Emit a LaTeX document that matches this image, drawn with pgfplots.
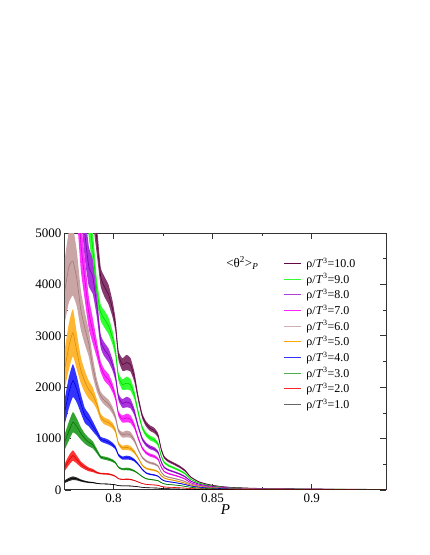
\documentclass[border=0pt]{standalone}
\usepackage{fontspec}
\setmainfont{Liberation Serif}
\usepackage{pgfplots}
\pgfplotsset{compat=1.18}
\usepackage{pgfplotstable}
\usepgfplotslibrary{fillbetween}

\definecolor{cmaroon}{RGB}{103,7,72}
\definecolor{cgreen}{RGB}{0,255,0}
\definecolor{cviolet}{RGB}{148,0,211}
\definecolor{cmagenta}{RGB}{255,0,255}
\definecolor{cbrown}{RGB}{188,143,143}
\definecolor{corange}{RGB}{255,165,0}
\definecolor{cblue}{RGB}{0,0,255}
\definecolor{cgreenf}{RGB}{0,139,0}
\definecolor{cred}{RGB}{255,0,0}
\definecolor{cblack}{RGB}{0,0,0}

% x, relative band half-width r, then rho/T^3 = 10 ... 1
\pgfplotstableread{
x      r     y10   y9    y8    y7    y6    y5    y4    y3    y2   y1
0.7755 0.16  9000  8000  7000  6000  3900  2380  1550  950   450  165
0.7775 0.16  10500 9200  8000  6800  4350  2800  1900  1150  580  205
0.7795 0.15  11500 9900  8500  7000  4450  3060  2130  1320  670  230
0.7815 0.13  10200 8800  7300  6100  4100  2690  1950  1230  590  215
0.7835 0.11  8700  7400  6000  4800  3500  2330  1680  1100  500  185
0.7855 0.10  7500  6300  5000  4100  3150  2110  1450  1000  445  165
0.7875 0.09  6600  5400  4350  3450  2850  1950  1360  930   400  150
0.7895 0.08  5700  4700  4150  3100  2400  1850  1240  880   380  145
0.7915 0.06  4900  3900  3600  2750  2050  1670  1120  760   340  130
0.7935 0.045 4150  3450  2900  2400  1830  1420  990   640   320  120
0.7955 0.05  3950  3320  2725  2230  1738  1340  960   620   315  118
0.7975 0.05  3800  3190  2622  2147  1672  1310  930   600   310  115
0.7995 0.045 3520  2960  2429  1989  1549  1250  880   570   290  108
0.8010 0.04  3200  2690  2208  1808  1408  1150  820   530   265  100
0.8025 0.035 2620  2200  1808  1480  1153  900   680   440   220  85
0.8045 0.05  2440  2050  1684  1379  1074  820   620   405   205  80
0.8065 0.06  2480  2080  1711  1401  1091  830   630   410   210  80
0.8085 0.055 2440  2050  1684  1379  1074  810   620   400   205  78
0.8105 0.045 2200  1850  1518  1243  968   740   580   370   185  72
0.8125 0.035 1780  1500  1228  1006  783   620   500   320   155  62
0.8145 0.035 1440  1210  994   814   634   480   400   260   125  52
0.8165 0.04  1280  1075  883   723   563   420   330   220   110  45
0.8185 0.045 1200  1010  828   678   528   400   305   205   102  42
0.8205 0.045 1160  975   800   655   510   385   292   195   98   40
0.8225 0.04  1060  890   731   599   466   355   268   180   90   37
0.8240 0.04  800   670   552   452   352   280   215   145   72   30
0.8255 0.04  640   540   442   362   282   235   180   120   60   26
0.8275 0.045 570   480   393   322   251   210   163   108   54   24
0.8300 0.045 520   437   359   294   229   190   150   100   50   22
0.8330 0.05  460   386   317   260   202   165   130   88    44   19
0.8360 0.05  380   320   262   215   167   135   108   72    37   16
0.8390 0.05  250   210   173   141   115   95    78    52    28   12
0.8430 0.05  160   135   115   95    80    66    55    37    21   9
0.8470 0.05  115   97    85    72    62    50    42    29    17   7
0.8500 0.05  90    76    68    58    50    42    35    24    14   6
0.8550 0.05  65    55    50    44    38    32    27    19    11   5
0.8600 0.05  50    42    38    34    30    25    21    15    9    4
0.8700 0.05  35    30    28    25    22    19    16    11    7    3
0.8800 0.05  28    24    22    20    18    15    13    9     6    3
0.9000 0.05  20    17    16    15    13    11    9     7     5    2
0.9200 0.05  15    13    12    11    10    9     7     5     4    2
0.9375 0.05  12    10    10    9     8     7     6     4     3    2
}\data

% band (mean +- r*mean) with the mean line on top
\newcommand{\band}[2]{%
  \addplot[name path=u#2, draw=none, smooth, tension=0.3, forget plot] table[x=x, y expr=\thisrow{#2}*(1+\thisrow{r})] {\data};
  \addplot[name path=l#2, draw=none, smooth, tension=0.3, forget plot] table[x=x, y expr=\thisrow{#2}*(1-\thisrow{r})] {\data};
  \addplot[fill=#1!80!white, draw=none, forget plot] fill between[of=u#2 and l#2];
  \addplot[#1!85!black, line width=0.6pt, smooth, tension=0.3, forget plot] table[x=x, y=#2] {\data};
}

\begin{document}
\begin{tikzpicture}
  \begin{axis}[
    width=321pt, height=257pt, scale only axis,
    xmin=0.7755, xmax=0.9375, ymin=0, ymax=5000,
    xtick={0.8,0.85,0.9}, xticklabels={0.8,0.85,0.9},
    ytick={0,1000,2000,3000,4000,5000},
    yticklabels={0,1000,2000,3000,4000,5000},
    scaled y ticks=false,
    minor x tick num=1, minor y tick num=1,
    tick align=inside,
    major tick length=6pt, minor tick length=3pt,
    xtick pos=both, ytick pos=both,
    axis line style={line width=1pt, black!80},
    every tick/.style={black!80, line width=0.8pt},
    tick label style={font=\fontsize{13}{14}\selectfont},
    /pgf/number format/assume math mode=true,
    xlabel={\textit{P}},
    xlabel style={font=\fontsize{15}{16}\selectfont, yshift=5pt},
    legend style={at={(rel axis cs:0.672,0.917)}, anchor=north west,
      draw=none, fill=none, font=\fontsize{12}{13}\selectfont,
      row sep=1.5pt, column sep=3pt, nodes={inner sep=1.5pt}},
    legend cell align=left,
  ]
    \band{cmaroon}{y10}
    \band{cgreen}{y9}
    \band{cviolet}{y8}
    \band{cmagenta}{y7}
    \band{cbrown}{y6}
    \band{corange}{y5}
    \band{cblue}{y4}
    \band{cgreenf}{y3}
    \band{cred}{y2}
    \band{cblack}{y1}

    \addlegendimage{color=cmaroon, line width=1pt}
    \addlegendentry{ρ/\textit{T}\textsuperscript{3}=10.0}
    \addlegendimage{color=cgreen!80!white, line width=1pt}
    \addlegendentry{ρ/\textit{T}\textsuperscript{3}=9.0}
    \addlegendimage{color=cviolet!75!white, line width=1pt}
    \addlegendentry{ρ/\textit{T}\textsuperscript{3}=8.0}
    \addlegendimage{color=cmagenta!85!white, line width=1pt}
    \addlegendentry{ρ/\textit{T}\textsuperscript{3}=7.0}
    \addlegendimage{color=cbrown!70!white, line width=1pt}
    \addlegendentry{ρ/\textit{T}\textsuperscript{3}=6.0}
    \addlegendimage{color=corange, line width=1pt}
    \addlegendentry{ρ/\textit{T}\textsuperscript{3}=5.0}
    \addlegendimage{color=cblue!80!white, line width=1pt}
    \addlegendentry{ρ/\textit{T}\textsuperscript{3}=4.0}
    \addlegendimage{color=cgreenf!70!white, line width=1pt}
    \addlegendentry{ρ/\textit{T}\textsuperscript{3}=3.0}
    \addlegendimage{color=cred!85!white, line width=1pt}
    \addlegendentry{ρ/\textit{T}\textsuperscript{3}=2.0}
    \addlegendimage{color=black!60, line width=1pt}
    \addlegendentry{ρ/\textit{T}\textsuperscript{3}=1.0}

    \node[anchor=west, inner sep=0pt, font=\fontsize{13}{14}\selectfont]
      at (rel axis cs:0.502,0.883) {<θ\textsuperscript{2}>\textsubscript{\textit{P}}};
  \end{axis}
  \path (-65pt,-65pt) rectangle (364pt,490pt);
\end{tikzpicture}
\end{document}
